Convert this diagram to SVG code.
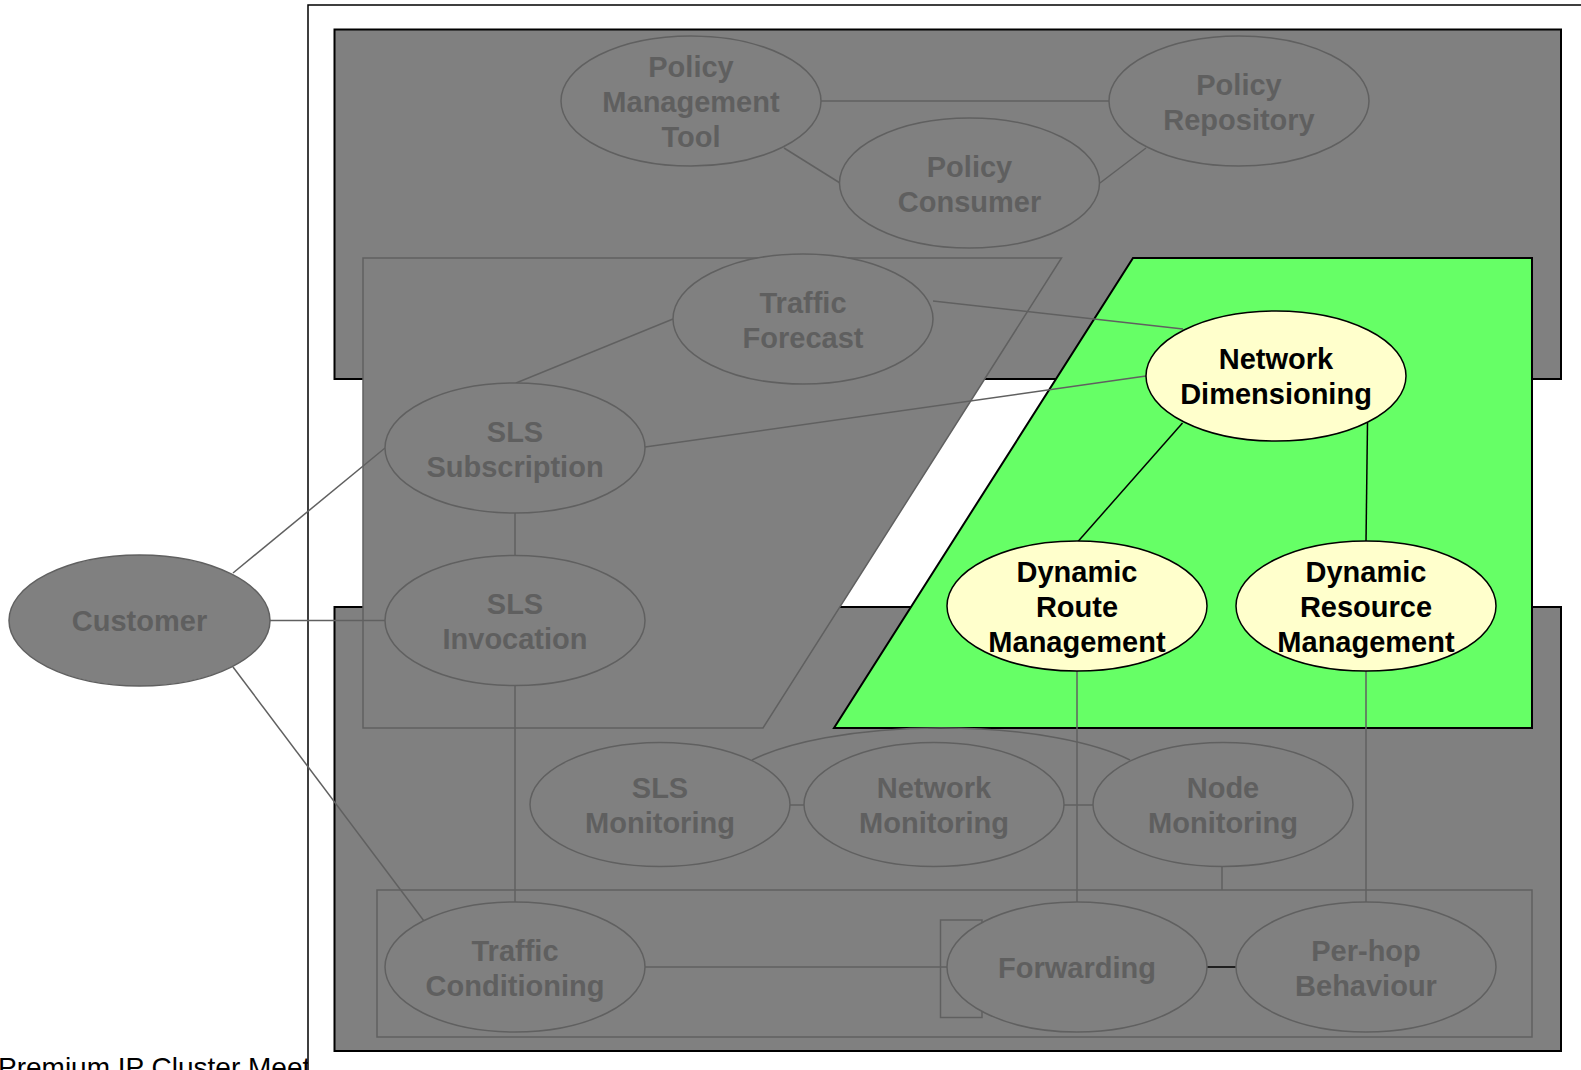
<svg xmlns="http://www.w3.org/2000/svg" width="1581" height="1070" viewBox="0 0 1581 1070">
<style>
  .gbox { fill: #808080; stroke: #000; stroke-width: 2; }
  .gshape { fill: #808080; stroke: #606060; stroke-width: 1.5; }
  .outline { fill: none; stroke: #606060; stroke-width: 1.5; }
  .gn ellipse { fill: #808080; stroke: #606060; stroke-width: 1.5; }
  .yn ellipse { fill: #FFFFCC; stroke: #000; stroke-width: 1.5; }
  .gn text { fill: #5f5f5f; }
  .yn text { fill: #000; }
  text { font-family: "Liberation Sans", Arial, sans-serif; font-weight: bold; font-size: 29px; text-anchor: middle; }
  .gl { fill: none; stroke: #606060; stroke-width: 1.5; }
  .bl { fill: none; stroke: #000; stroke-width: 1.5; }
  .footer { font-weight: normal; font-size: 28px; text-anchor: start; fill: #000; }
</style>

<text class="footer" x="-2" y="1077">Premium IP Cluster Meet</text>

<g id="containers">
  <rect x="308" y="5" width="1320" height="1120" fill="#fff" stroke="#000" stroke-width="1.5"/>
  <rect class="gbox" x="334.5" y="29.5" width="1226.5" height="349.5"/>
  <rect class="gbox" x="334.5" y="607" width="1226.5" height="444"/>
  <polygon class="gshape" points="363,258 1061.5,258 763,728 363,728"/>
  <rect class="outline" x="377" y="890" width="1155" height="147"/>
  <rect class="outline" x="940.5" y="920" width="41.5" height="97.5"/>
  <polygon points="1133,258 1532,258 1532,728 834,728" fill="#66FF66" stroke="#000" stroke-width="2"/>
</g>

<g id="connectors">
  <path class="gl" d="M821,101 H1109"/>
  <path class="gl" d="M784,148 L840,183"/>
  <path class="gl" d="M1100,183 L1146,148"/>
  <path class="gl" d="M516,383 L673,319"/>
  <path class="gl" d="M933,301 L1183,329"/>
  <path class="gl" d="M645,447 L1146,376"/>
  <path class="gl" d="M233,573 L385,448"/>
  <path class="gl" d="M270,620.5 H385"/>
  <path class="gl" d="M233,667 L424,921"/>
  <path class="gl" d="M515,513 V555.5"/>
  <path class="gl" d="M515,685.5 V902"/>
  <path class="gl" d="M645,967 H947"/>
  <path class="bl" stroke-width="2" d="M1207,967 H1236"/>
  <path class="gl" d="M790,805 H804"/>
  <path class="gl" d="M1064,805 H1093"/>
  <path class="gl" d="M752,760 A220,65.6 0 0 1 1130,760"/>
  <path class="gl" d="M1077,671 V902"/>
  <path class="gl" d="M1366,671 V902"/>
  <path class="gl" d="M1222,866.5 V890"/>
  <path class="bl" d="M1182.5,423 L1078,541.5"/>
  <path class="bl" d="M1367.5,423 L1366,541.5"/>
</g>

<g id="policy-management-tool" class="gn">
  <ellipse cx="691" cy="101" rx="130" ry="65"/>
  <text x="691" y="77">Policy</text>
  <text x="691" y="112">Management</text>
  <text x="691" y="147">Tool</text>
</g>
<g id="policy-repository" class="gn">
  <ellipse cx="1239" cy="101" rx="130" ry="65"/>
  <text x="1239" y="94.5">Policy</text>
  <text x="1239" y="129.5">Repository</text>
</g>
<g id="policy-consumer" class="gn">
  <ellipse cx="969.5" cy="183" rx="130" ry="65"/>
  <text x="969.5" y="176.5">Policy</text>
  <text x="969.5" y="211.5">Consumer</text>
</g>
<g id="traffic-forecast" class="gn">
  <ellipse cx="803" cy="319" rx="130" ry="65"/>
  <text x="803" y="312.5">Traffic</text>
  <text x="803" y="347.5">Forecast</text>
</g>
<g id="sls-subscription" class="gn">
  <ellipse cx="515" cy="448" rx="130" ry="65"/>
  <text x="515" y="441.5">SLS</text>
  <text x="515" y="476.5">Subscription</text>
</g>
<g id="sls-invocation" class="gn">
  <ellipse cx="515" cy="620.5" rx="130" ry="65"/>
  <text x="515" y="614">SLS</text>
  <text x="515" y="649">Invocation</text>
</g>
<g id="customer" class="gn">
  <ellipse cx="139.5" cy="620.5" rx="130.5" ry="65.5"/>
  <text x="139.5" y="631">Customer</text>
</g>
<g id="network-dimensioning" class="yn">
  <ellipse cx="1276" cy="376" rx="130" ry="65"/>
  <text x="1276" y="369">Network</text>
  <text x="1276" y="404">Dimensioning</text>
</g>
<g id="dynamic-route-management" class="yn">
  <ellipse cx="1077" cy="606" rx="130" ry="65"/>
  <text x="1077" y="582">Dynamic</text>
  <text x="1077" y="617">Route</text>
  <text x="1077" y="652">Management</text>
</g>
<g id="dynamic-resource-management" class="yn">
  <ellipse cx="1366" cy="606" rx="130" ry="65"/>
  <text x="1366" y="582">Dynamic</text>
  <text x="1366" y="617">Resource</text>
  <text x="1366" y="652">Management</text>
</g>
<g id="sls-monitoring" class="gn">
  <ellipse cx="660" cy="804.5" rx="130" ry="62"/>
  <text x="660" y="798">SLS</text>
  <text x="660" y="833">Monitoring</text>
</g>
<g id="network-monitoring" class="gn">
  <ellipse cx="934" cy="804.5" rx="130" ry="62"/>
  <text x="934" y="798">Network</text>
  <text x="934" y="833">Monitoring</text>
</g>
<g id="node-monitoring" class="gn">
  <ellipse cx="1223" cy="804.5" rx="130" ry="62"/>
  <text x="1223" y="798">Node</text>
  <text x="1223" y="833">Monitoring</text>
</g>
<g id="traffic-conditioning" class="gn">
  <ellipse cx="515" cy="967" rx="130" ry="65"/>
  <text x="515" y="960.5">Traffic</text>
  <text x="515" y="995.5">Conditioning</text>
</g>
<g id="forwarding" class="gn">
  <ellipse cx="1077" cy="967" rx="130" ry="65"/>
  <text x="1077" y="977.5">Forwarding</text>
</g>
<g id="per-hop-behaviour" class="gn">
  <ellipse cx="1366" cy="967" rx="130" ry="65"/>
  <text x="1366" y="960.5">Per-hop</text>
  <text x="1366" y="995.5">Behaviour</text>
</g>
</svg>
